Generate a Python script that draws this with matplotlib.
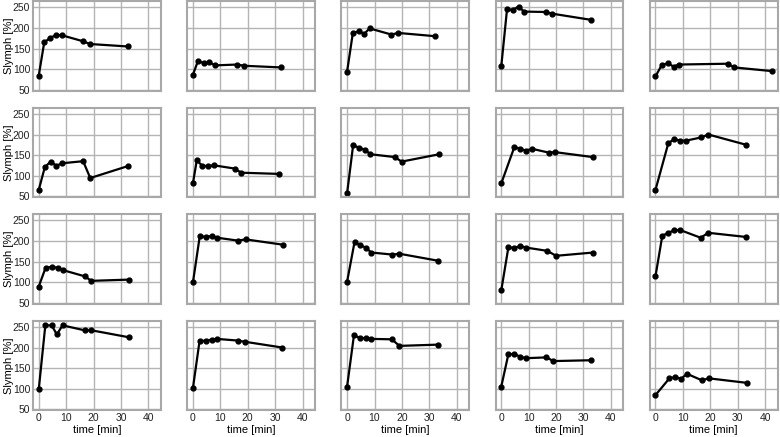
import matplotlib
matplotlib.use("Agg")
import matplotlib.pyplot as plt

# time points (min) and lymph flow (%) for each of the 20 animals, row by row
times = [
    [0, 2.0, 4.2, 6.4, 8.6, 16.0, 18.7, 32.5],
    [0, 1.8, 3.9, 6.0, 8.2, 16.2, 18.7, 32.1],
    [0, 2.1, 4.3, 6.3, 8.2, 16.2, 18.6, 32.2],
    [0, 2.1, 4.1, 6.3, 8.3, 16.2, 18.5, 32.6],
    [0, 2.3, 4.6, 6.6, 8.5, 26.4, 28.7, 42.5],

    [0, 2.2, 4.3, 6.4, 8.6, 16.2, 18.8, 32.5],
    [0, 1.4, 3.4, 5.6, 7.6, 15.3, 17.6, 31.5],
    [0, 2.2, 4.3, 6.5, 8.5, 17.4, 19.9, 33.7],
    [0, 4.8, 6.9, 9.0, 11.3, 17.3, 19.7, 33.4],
    [0, 4.7, 6.9, 8.9, 11.1, 16.8, 19.3, 33.1],

    [0, 2.5, 4.7, 6.9, 8.9, 16.8, 19.2, 33.0],
    [0, 2.5, 4.7, 6.8, 8.9, 16.4, 19.2, 32.9],
    [0, 2.7, 4.8, 6.8, 8.8, 16.5, 19.1, 33.2],
    [0, 2.6, 4.8, 6.9, 9.1, 16.8, 20.0, 33.6],
    [0, 2.5, 4.7, 6.8, 8.9, 16.5, 19.3, 32.9],

    [0, 2.4, 4.7, 6.6, 8.7, 16.7, 19.2, 32.9],
    [0, 2.4, 4.6, 6.8, 8.8, 16.3, 19.0, 32.6],
    [0, 2.5, 4.7, 6.9, 8.9, 16.3, 19.1, 33.0],
    [0, 2.6, 4.8, 6.8, 9.0, 16.5, 19.0, 32.7],
    [0, 5.1, 7.2, 9.4, 11.5, 17.0, 19.4, 33.3],
]

slymph = [
    [84, 165, 176, 183, 182, 168, 161, 155],
    [86, 119, 115, 116, 109, 111, 108, 104],
    [94, 188, 192, 186, 199, 184, 188, 180],
    [107, 246, 244, 252, 240, 239, 235, 220],
    [82, 110, 114, 106, 111, 113, 104, 95],

    [65, 120, 134, 124, 130, 135, 94, 123],
    [81, 137, 124, 123, 125, 117, 107, 104],
    [57, 174, 168, 163, 152, 145, 134, 152],
    [81, 170, 165, 161, 165, 156, 157, 145],
    [65, 179, 189, 185, 185, 193, 200, 175],

    [89, 135, 137, 135, 129, 114, 103, 106],
    [99, 212, 210, 212, 208, 201, 204, 191],
    [101, 197, 190, 184, 172, 167, 169, 152],
    [80, 185, 183, 188, 184, 176, 164, 172],
    [114, 213, 220, 226, 227, 208, 220, 210],

    [98, 254, 254, 232, 254, 242, 242, 225],
    [101, 215, 217, 219, 221, 217, 214, 200],
    [105, 230, 223, 223, 221, 220, 204, 207],
    [105, 184, 184, 178, 174, 176, 167, 169],
    [84, 125, 128, 124, 136, 120, 125, 114],
]

plt.rcParams['font.family'] = ['Liberation Sans', 'DejaVu Sans']
plt.rcParams['font.size'] = 8

fig, axes = plt.subplots(4, 5, figsize=(7.8, 4.37), dpi=100,
                         sharex=True, sharey=True)
fig.subplots_adjust(left=0.0423, right=0.997, top=0.997, bottom=0.061,
                    wspace=0.205, hspace=0.19)

for i, ax in enumerate(axes.flat):
    ax.plot(times[i], slymph[i], 'k-o', lw=1.6, ms=3.5)
    ax.grid(True, color='#b4b4b4', lw=1.0)
    ax.set_axisbelow(True)
    ax.tick_params(length=0, pad=2, labelsize=7.5, colors='#222222')
    for sp in ax.spines.values():
        sp.set_color('#a8a8a8')
        sp.set_linewidth(1.5)
    if i % 5 == 0:
        ax.set_ylabel('Slymph [%]', fontsize=8)
        ax.yaxis.set_label_coords(-0.15, 0.5)
    if i >= 15:
        ax.set_xlabel('time [min]', fontsize=8, labelpad=1)

ax = axes[0, 0]
ax.set_xticks([0, 10, 20, 30, 40])
ax.set_yticks([50, 100, 150, 200, 250])
ax.set_xlim(-2.1, 44.6)
ax.set_ylim(47, 265)

fig.savefig('out.png', dpi=100)
